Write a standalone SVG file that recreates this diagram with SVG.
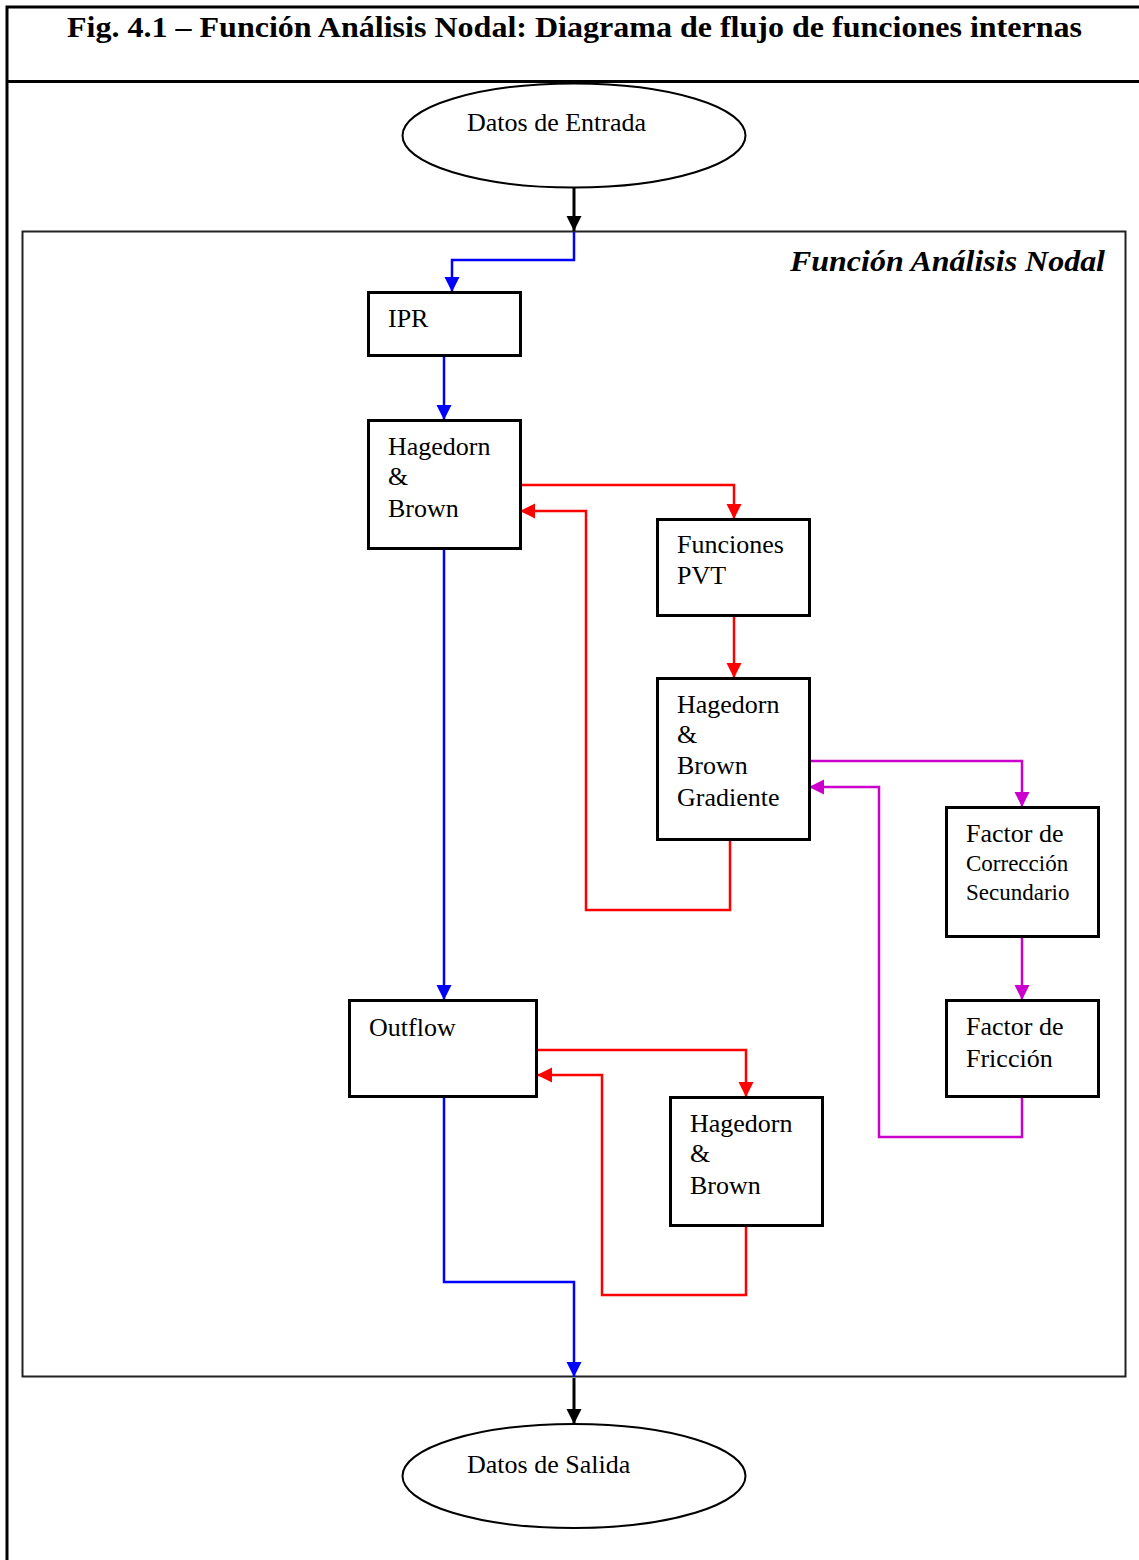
<svg xmlns="http://www.w3.org/2000/svg" width="1139" height="1560" viewBox="0 0 1139 1560">
<defs>
<style>
.box{fill:#fff;stroke:#000;stroke-width:3}
.ell{fill:#fff;stroke:#000;stroke-width:2}
.t{font-family:"Liberation Serif","Times New Roman",serif;font-size:26px;fill:#000}
.ts{font-family:"Liberation Serif","Times New Roman",serif;font-size:23px;fill:#000}
.k{fill:none;stroke:#000;stroke-width:3}
.b{fill:none;stroke:#0000FF;stroke-width:2.5}
.r{fill:none;stroke:#FF0000;stroke-width:2.5}
.m{fill:none;stroke:#CC00CC;stroke-width:2.5}
</style>
<marker id="ak" markerUnits="userSpaceOnUse" markerWidth="16" markerHeight="16" refX="15" refY="7.5" orient="auto"><path d="M0,0 L15,7.5 L0,15 z" fill="#000"/></marker>
<marker id="ab" markerUnits="userSpaceOnUse" markerWidth="16" markerHeight="16" refX="15" refY="7.5" orient="auto"><path d="M0,0 L15,7.5 L0,15 z" fill="#0000FF"/></marker>
<marker id="ar" markerUnits="userSpaceOnUse" markerWidth="16" markerHeight="16" refX="15" refY="7.5" orient="auto"><path d="M0,0 L15,7.5 L0,15 z" fill="#FF0000"/></marker>
<marker id="am" markerUnits="userSpaceOnUse" markerWidth="16" markerHeight="16" refX="15" refY="7.5" orient="auto"><path d="M0,0 L15,7.5 L0,15 z" fill="#CC00CC"/></marker>
</defs>
<rect width="1139" height="1560" fill="#fff"/>
<g id="frame">
<path d="M7,1560 L7,7 L1145,7" fill="none" stroke="#000" stroke-width="3"/>
<line x1="7" y1="81.5" x2="1139" y2="81.5" stroke="#000" stroke-width="3"/>
<text x="67" y="37" textLength="1015" lengthAdjust="spacingAndGlyphs" font-family="'Liberation Serif','Times New Roman',serif" font-size="29" font-weight="bold">Fig. 4.1 – Función Análisis Nodal: Diagrama de flujo de funciones internas</text>
</g>
<g id="container">
<rect x="22.5" y="231.5" width="1103" height="1145" fill="none" stroke="#222" stroke-width="2"/>
<text x="790" y="271" textLength="315" lengthAdjust="spacingAndGlyphs" font-family="'Liberation Serif','Times New Roman',serif" font-size="29" font-weight="bold" font-style="italic">Función Análisis Nodal</text>
</g>
<g id="connectors">
<line class="k" x1="574" y1="188" x2="574" y2="231" marker-end="url(#ak)"/>
<path class="b" d="M574,232 V260 H452 V292" marker-end="url(#ab)"/>
<line class="b" x1="444" y1="357" x2="444" y2="420" marker-end="url(#ab)"/>
<path class="r" d="M520,485 H734 V519" marker-end="url(#ar)"/>
<path class="r" d="M730,840 V910 H586 V511 H520" marker-end="url(#ar)"/>
<line class="r" x1="734" y1="616" x2="734" y2="678" marker-end="url(#ar)"/>
<path class="m" d="M809,761 H1022 V807" marker-end="url(#am)"/>
<path class="m" d="M1022,1098 V1137 H879 V787 H809" marker-end="url(#am)"/>
<line class="m" x1="1022" y1="938" x2="1022" y2="1000" marker-end="url(#am)"/>
<line class="b" x1="444" y1="550" x2="444" y2="1000" marker-end="url(#ab)"/>
<path class="r" d="M537,1050 H746 V1097" marker-end="url(#ar)"/>
<path class="r" d="M746,1227 V1295 H602 V1075 H537" marker-end="url(#ar)"/>
<path class="b" d="M444,1098 V1282 H574 V1377" marker-end="url(#ab)"/>
<line class="k" x1="574" y1="1378" x2="574" y2="1424" marker-end="url(#ak)"/>
</g>
<g id="n-entrada">
<ellipse class="ell" cx="574" cy="135.5" rx="171.5" ry="52"/>
<text class="t" x="467" y="131">Datos de Entrada</text>
</g>
<g id="n-ipr">
<rect class="box" x="368.5" y="292.5" width="152" height="63"/>
<text class="t" x="388" y="327">IPR</text>
</g>
<g id="n-hb1">
<rect class="box" x="368.5" y="420.5" width="152" height="128"/>
<text class="t" x="388" y="455">Hagedorn</text>
<text class="t" x="388" y="485">&amp;</text>
<text class="t" x="388" y="517">Brown</text>
</g>
<g id="n-pvt">
<rect class="box" x="657.5" y="519.5" width="152" height="96"/>
<text class="t" x="677" y="553">Funciones</text>
<text class="t" x="677" y="584">PVT</text>
</g>
<g id="n-hbg">
<rect class="box" x="657.5" y="678.5" width="152" height="161"/>
<text class="t" x="677" y="713">Hagedorn</text>
<text class="t" x="677" y="743">&amp;</text>
<text class="t" x="677" y="774">Brown</text>
<text class="t" x="677" y="806">Gradiente</text>
</g>
<g id="n-fcs">
<rect class="box" x="946.5" y="807.5" width="152" height="129"/>
<text class="t" x="966" y="842">Factor de</text>
<text class="ts" x="966" y="871">Corrección</text>
<text class="ts" x="966" y="900">Secundario</text>
</g>
<g id="n-ff">
<rect class="box" x="946.5" y="1000.5" width="152" height="96"/>
<text class="t" x="966" y="1035">Factor de</text>
<text class="t" x="966" y="1067">Fricción</text>
</g>
<g id="n-outflow">
<rect class="box" x="349.5" y="1000.5" width="187" height="96"/>
<text class="t" x="369" y="1036">Outflow</text>
</g>
<g id="n-hb2">
<rect class="box" x="670.5" y="1097.5" width="152" height="128"/>
<text class="t" x="690" y="1132">Hagedorn</text>
<text class="t" x="690" y="1162">&amp;</text>
<text class="t" x="690" y="1194">Brown</text>
</g>
<g id="n-salida">
<ellipse class="ell" cx="574" cy="1476" rx="171.5" ry="52"/>
<text class="t" x="467" y="1473">Datos de Salida</text>
</g>
</svg>
